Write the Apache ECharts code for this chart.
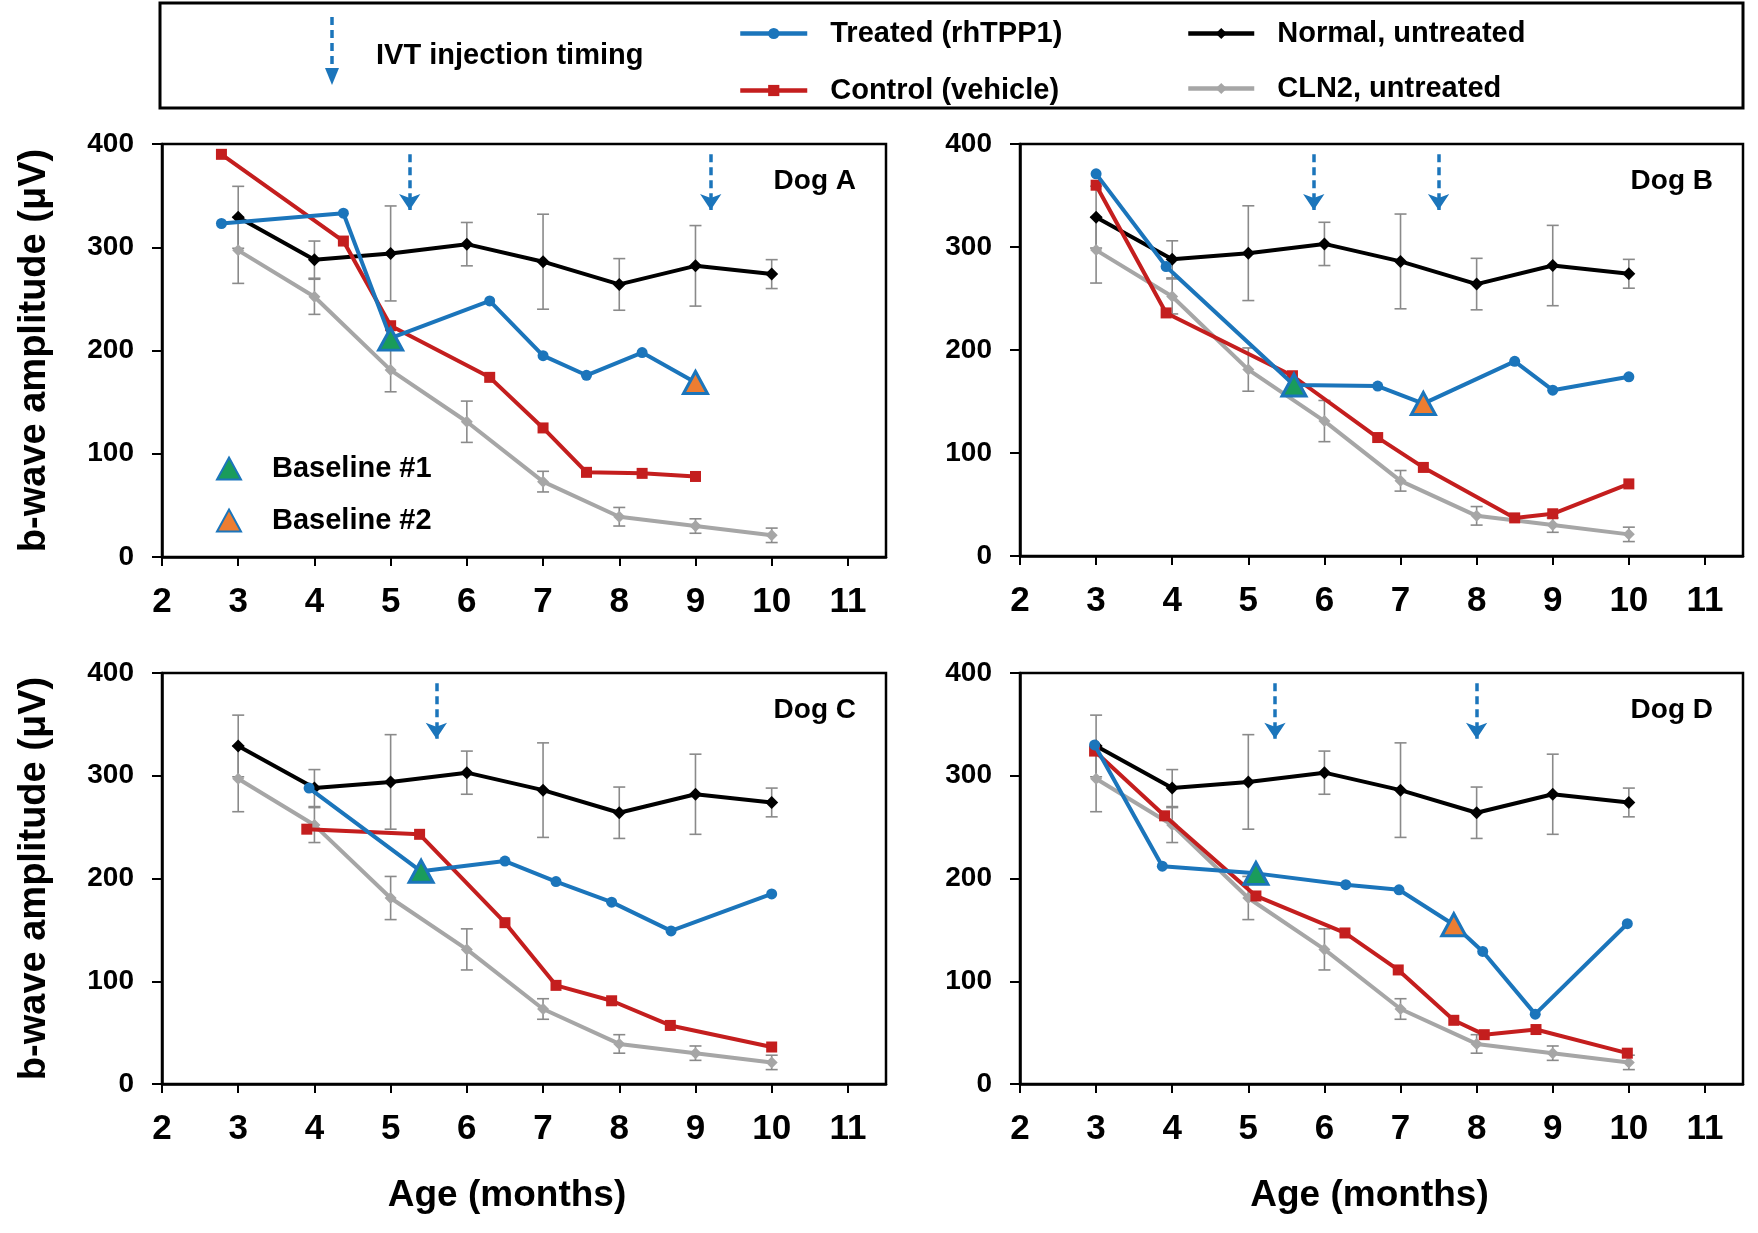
<!DOCTYPE html>
<html>
<head>
<meta charset="utf-8">
<script src="https://cdn.jsdelivr.net/npm/echarts@6/dist/echarts.min.js"></script>
<style>
  html, body { margin: 0; padding: 0; background: #fff; }
  #main { width: 1758px; height: 1233px; }
</style>
</head>
<body>
<div id="main"></div>
<script>
// reference groups, same in every panel
var refAge = [3, 4, 5, 6, 7, 8, 9, 10];
var normalAmp = [329, 288, 294, 303, 286, 264, 282, 274];
var normalSd = [30, 18, 46, 21, 46, 25, 39, 14];
var cln2Amp = [297, 252, 181, 131, 73, 39, 30, 21];
var cln2Sd = [32, 17, 21, 20, 10, 9, 7, 7];

// Dog A
var dogATreatedAge = [2.78, 4.38, 5.0, 6.3, 7.0, 7.57, 8.3, 9.0];
var dogATreatedAmp = [323, 333, 212, 248, 195, 176, 198, 169];
var dogAControlAge = [2.78, 4.38, 5.0, 6.3, 7.0, 7.57, 8.3, 9.0];
var dogAControlAmp = [390, 306, 224, 174, 125, 82, 81, 78];
var dogABase1 = [5.0, 211];
var dogABase2 = [9.0, 169];
var dogAInject = [5.25, 9.2];

// Dog B
var dogBTreatedAge = [3.0, 3.92, 5.6, 6.7, 7.3, 8.5, 9.0, 10.0];
var dogBTreatedAmp = [371, 281, 166, 165, 148, 189, 161, 174];
var dogBControlAge = [3.0, 3.92, 5.58, 6.7, 7.3, 8.5, 9.0, 10.0];
var dogBControlAmp = [360, 236, 175, 115, 86, 37, 41, 70];
var dogBBase1 = [5.6, 166];
var dogBBase2 = [7.3, 148];
var dogBInject = [5.86, 7.5];

// Dog C
var dogCTreatedAge = [3.93, 5.4, 6.5, 7.17, 7.9, 8.68, 10.0];
var dogCTreatedAmp = [288, 207, 217, 197, 177, 149, 185];
var dogCControlAge = [3.9, 5.38, 6.5, 7.17, 7.9, 8.67, 10.0];
var dogCControlAmp = [248, 243, 157, 96, 81, 57, 36];
var dogCBase1 = [5.4, 207];
var dogCBase2 = null;
var dogCInject = [5.6];

// Dog D
var dogDTreatedAge = [2.98, 3.87, 5.1, 6.28, 6.98, 7.7, 8.08, 8.77, 9.98];
var dogDTreatedAmp = [330, 212, 205, 194, 189, 155, 129, 68, 156];
var dogDControlAge = [2.98, 3.9, 5.1, 6.27, 6.97, 7.7, 8.1, 8.78, 9.98];
var dogDControlAmp = [324, 261, 183, 147, 111, 62, 48, 53, 30];
var dogDBase1 = [5.1, 205];
var dogDBase2 = [7.7, 155];
var dogDInject = [5.35, 8.0];

var xTicks = [2, 3, 4, 5, 6, 7, 8, 9, 10, 11];
var yTicks = [0, 100, 200, 300, 400];
var arrowTop = 390, arrowTip = 336;

var dogs = [
  {name: 'Dog A', tAge: dogATreatedAge, tAmp: dogATreatedAmp, cAge: dogAControlAge, cAmp: dogAControlAmp, b1: dogABase1, b2: dogABase2, inj: dogAInject},
  {name: 'Dog B', tAge: dogBTreatedAge, tAmp: dogBTreatedAmp, cAge: dogBControlAge, cAmp: dogBControlAmp, b1: dogBBase1, b2: dogBBase2, inj: dogBInject},
  {name: 'Dog C', tAge: dogCTreatedAge, tAmp: dogCTreatedAmp, cAge: dogCControlAge, cAmp: dogCControlAmp, b1: dogCBase1, b2: dogCBase2, inj: dogCInject},
  {name: 'Dog D', tAge: dogDTreatedAge, tAmp: dogDTreatedAmp, cAge: dogDControlAge, cAmp: dogDControlAmp, b1: dogDBase1, b2: dogDBase2, inj: dogDInject}
];

// panel boxes in px
var boxes = [
  {left: 162, top: 144, width: 724, height: 413},
  {left: 1020, top: 144, width: 723, height: 412},
  {left: 162, top: 673, width: 724, height: 411},
  {left: 1020, top: 673, width: 723, height: 411}
];

var FONT = '"Liberation Sans", Arial, sans-serif';
var BLUE = '#1b75bb', RED = '#c41e1e', GREY = '#a6a6a6', GREEN = '#1a9c5b', ORANGE = '#ed7d31';

function zip(a, b) {
  var out = [];
  for (var i = 0; i < a.length; i++) out.push([a[i], b[i]]);
  return out;
}

function errData(amp, sd) {
  var out = [];
  for (var i = 0; i < refAge.length; i++) out.push([refAge[i], amp[i] - sd[i], amp[i] + sd[i]]);
  return out;
}

function errorBar(params, api) {
  var x = api.value(0);
  var top = api.coord([x, api.value(2)]);
  var bot = api.coord([x, api.value(1)]);
  var w = 6, st = {stroke: '#8a8a8a', lineWidth: 1.6};
  return {type: 'group', children: [
    {type: 'line', shape: {x1: top[0], y1: top[1], x2: bot[0], y2: bot[1]}, style: st},
    {type: 'line', shape: {x1: top[0] - w, y1: top[1], x2: top[0] + w, y2: top[1]}, style: st},
    {type: 'line', shape: {x1: bot[0] - w, y1: bot[1], x2: bot[0] + w, y2: bot[1]}, style: st}
  ]};
}

var grids = [], xAxes = [], yAxes = [], series = [], titles = [];

dogs.forEach(function(d, i){
  var b = boxes[i];
  grids.push({left: b.left, top: b.top, width: b.width, height: b.height,
    show: true, borderColor: '#000', borderWidth: 2.5, backgroundColor: 'transparent'});

  xAxes.push({
    gridIndex: i, type: 'value', min: 2, max: 11.5,
    name: i >= 2 ? 'Age (months)' : '', nameLocation: 'middle', nameGap: 93,
    nameTextStyle: {fontFamily: FONT, fontSize: 37, fontWeight: 'bold', color: '#000', padding: [0, i === 2 ? 34 : 24, 0, 0]},
    axisLine: {show: true, lineStyle: {color: '#000', width: 2.5}},
    axisTick: {show: true, inside: false, length: 9, customValues: xTicks, lineStyle: {color: '#000', width: 2}},
    axisLabel: {customValues: xTicks, margin: 28, fontFamily: FONT, fontSize: 35, fontWeight: 'bold', color: '#000'},
    splitLine: {show: false}
  });

  yAxes.push({
    gridIndex: i, type: 'value', min: 0, max: 400, interval: 100,
    name: (i % 2 === 0) ? 'b-wave amplitude (μV)' : '', nameLocation: 'middle', nameGap: 108,
    nameTextStyle: {fontFamily: FONT, fontSize: 38, fontWeight: 'bold', color: '#000'},
    axisLine: {show: true, lineStyle: {color: '#000', width: 2.5}},
    axisTick: {show: true, inside: false, length: 10, lineStyle: {color: '#000', width: 2}},
    axisLabel: {margin: 28, fontFamily: FONT, fontSize: 28, fontWeight: 'bold', color: '#000'},
    splitLine: {show: false}
  });

  titles.push({
    text: d.name, right: 1758 - (b.left + b.width) + 30, top: b.top + 23, padding: 0,
    textStyle: {fontFamily: FONT, fontSize: 28, fontWeight: 'bold', color: '#000'}
  });

  // error bars
  series.push({type: 'custom', xAxisIndex: i, yAxisIndex: i, renderItem: errorBar,
    encode: {x: 0, y: [1, 2]}, data: errData(normalAmp, normalSd), z: 1, silent: true});
  series.push({type: 'custom', xAxisIndex: i, yAxisIndex: i, renderItem: errorBar,
    encode: {x: 0, y: [1, 2]}, data: errData(cln2Amp, cln2Sd), z: 1, silent: true});

  series.push({name: 'CLN2, untreated', type: 'line', xAxisIndex: i, yAxisIndex: i,
    data: zip(refAge, cln2Amp), symbol: 'diamond', symbolSize: 12, z: 2,
    lineStyle: {color: GREY, width: 4}, itemStyle: {color: GREY}});
  series.push({name: 'Normal, untreated', type: 'line', xAxisIndex: i, yAxisIndex: i,
    data: zip(refAge, normalAmp), symbol: 'diamond', symbolSize: 13, z: 3,
    lineStyle: {color: '#000', width: 4}, itemStyle: {color: '#000'}});
  series.push({name: 'Control (vehicle)', type: 'line', xAxisIndex: i, yAxisIndex: i,
    data: zip(d.cAge, d.cAmp), symbol: 'rect', symbolSize: 11, z: 4,
    lineStyle: {color: RED, width: 4}, itemStyle: {color: RED}});
  series.push({name: 'Treated (rhTPP1)', type: 'line', xAxisIndex: i, yAxisIndex: i,
    data: zip(d.tAge, d.tAmp), symbol: 'circle', symbolSize: 11, z: 5,
    lineStyle: {color: BLUE, width: 4}, itemStyle: {color: BLUE}});

  series.push({name: 'Baseline #1', type: 'scatter', xAxisIndex: i, yAxisIndex: i,
    data: d.b1 ? [d.b1] : [], symbol: 'triangle', symbolSize: [24, 22], z: 6,
    itemStyle: {color: GREEN, borderColor: BLUE, borderWidth: 3, opacity: 1}});
  series.push({name: 'Baseline #2', type: 'scatter', xAxisIndex: i, yAxisIndex: i,
    data: d.b2 ? [d.b2] : [], symbol: 'triangle', symbolSize: [24, 22], z: 6,
    itemStyle: {color: ORANGE, borderColor: BLUE, borderWidth: 3, opacity: 1}});

  // injection arrows
  series.push({type: 'lines', coordinateSystem: 'cartesian2d', xAxisIndex: i, yAxisIndex: i,
    data: d.inj.map(function(x){ return {coords: [[x, arrowTop], [x, arrowTip]]}; }),
    symbol: ['none', 'arrow'], symbolSize: 16, z: 7, silent: true,
    lineStyle: {color: BLUE, width: 3.5, type: [8, 5], opacity: 1}});
});

var legendText = {fontFamily: FONT, fontSize: 29, fontWeight: 'bold', color: '#000', padding: [0, 0, 0, 18]};

var option = {
  backgroundColor: '#fff',
  animation: false,
  title: titles,
  grid: grids,
  xAxis: xAxes,
  yAxis: yAxes,
  legend: [
    {data: ['Treated (rhTPP1)', 'Control (vehicle)'], orient: 'vertical', left: 738, top: 19,
      itemWidth: 67, itemHeight: 14, itemGap: 28, padding: 0, selectedMode: false,
      lineStyle: {width: 4.5}, textStyle: legendText},
    {data: ['Normal, untreated', 'CLN2, untreated'], orient: 'vertical', left: 1186, top: 19,
      itemWidth: 66, itemHeight: 14, itemGap: 26, padding: 0, selectedMode: false,
      lineStyle: {width: 4.5}, textStyle: legendText},
    {data: ['Baseline #1', 'Baseline #2'], orient: 'vertical', left: 216, top: 454,
      itemWidth: 24, itemHeight: 22, itemGap: 23, padding: 0, selectedMode: false,
      textStyle: {fontFamily: FONT, fontSize: 29, fontWeight: 'bold', color: '#000', padding: [0, 0, 0, 26]}}
  ],
  graphic: [
    {type: 'rect', shape: {x: 160, y: 3, width: 1583, height: 105}, style: {fill: 'none', stroke: '#000', lineWidth: 3}},
    {type: 'line', shape: {x1: 332, y1: 17, x2: 332, y2: 72}, style: {stroke: BLUE, lineWidth: 3.5, lineDash: [8, 5]}},
    {type: 'polygon', shape: {points: [[325, 68], [339, 68], [332, 85]]}, style: {fill: BLUE}},
    {type: 'text', x: 376, y: 56, style: {text: 'IVT injection timing', fill: '#000', font: 'bold 29px ' + FONT, verticalAlign: 'middle'}}
  ],
  series: series
};

var chart = echarts.init(document.getElementById('main'), null, {renderer: 'canvas'});
chart.setOption(option);
</script>
</body>
</html>
